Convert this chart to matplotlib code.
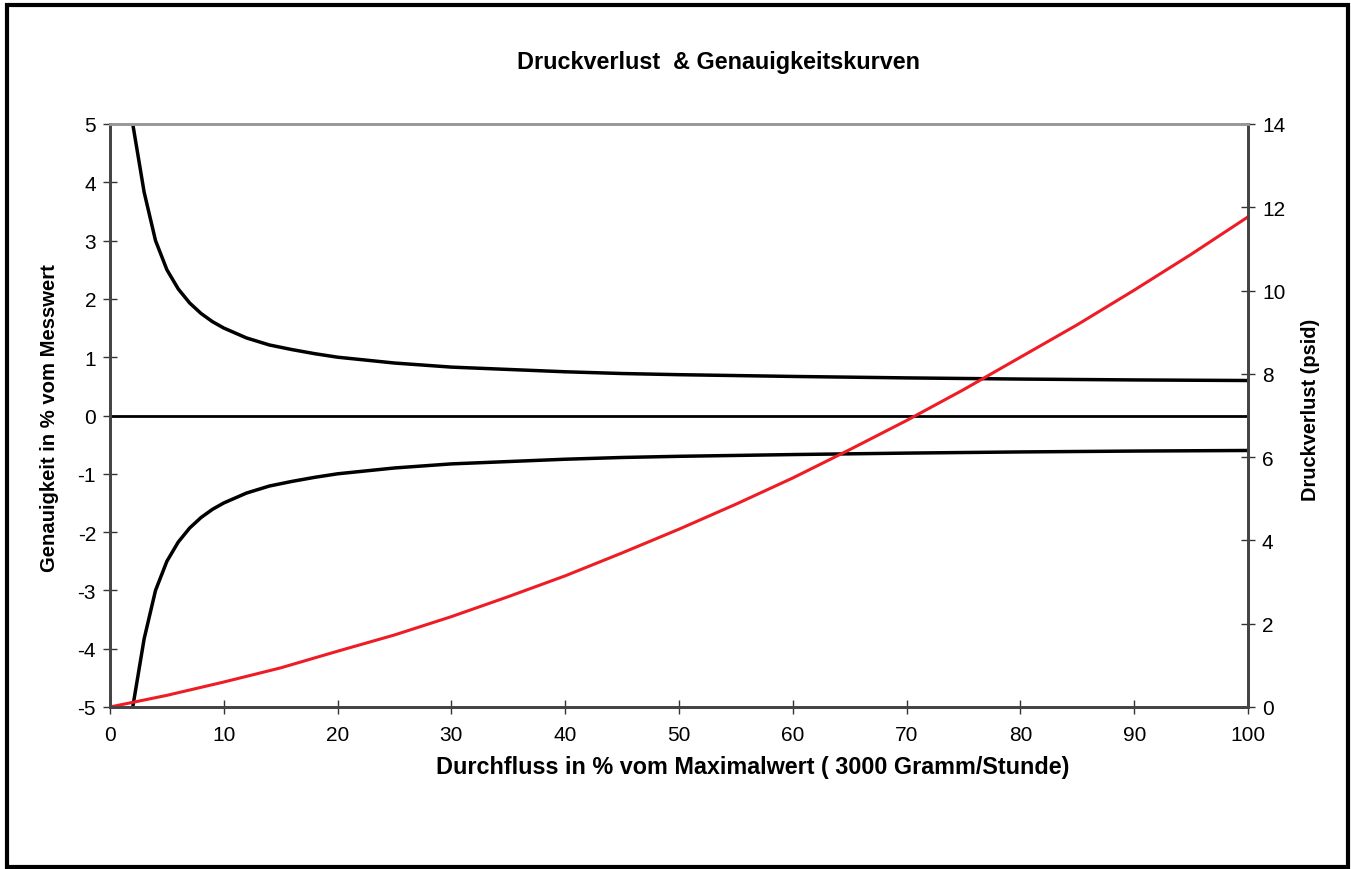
import matplotlib.pyplot as plt
from matplotlib.patches import Rectangle

plt.rcParams['font.family'] = ['Liberation Sans', 'DejaVu Sans']
plt.rcParams['axes.unicode_minus'] = False

# Genauigkeit (upper / lower limit), % vom Messwert
acc_x = [2, 3, 4, 5, 6, 7, 8, 9, 10, 12, 14, 16, 18, 20, 25, 30, 35, 40, 45, 50, 60, 70, 80, 90, 100]
acc_upper = [5.0, 3.83, 3.0, 2.5, 2.17, 1.93, 1.75, 1.61, 1.5, 1.33, 1.21, 1.13, 1.06, 1.0,
             0.9, 0.83, 0.79, 0.75, 0.72, 0.70, 0.67, 0.645, 0.625, 0.61, 0.60]
acc_lower = [-v for v in acc_upper]

# Druckverlust (psid)
dp_x = [0, 5, 10, 15, 20, 25, 30, 35, 40, 45, 50, 55, 60, 65, 70, 75, 80, 85, 90, 95, 100]
dp_y = [0.0, 0.28, 0.6, 0.94, 1.34, 1.73, 2.17, 2.65, 3.15, 3.70, 4.27, 4.87, 5.5, 6.18,
        6.88, 7.62, 8.4, 9.18, 10.01, 10.87, 11.77]

x_ticks = list(range(0, 101, 10))
left_ticks = list(range(-5, 6))
right_ticks = list(range(0, 15, 2))

W, H = 1351, 870
fig = plt.figure(figsize=(W / 100, H / 100), dpi=100)
ax1 = fig.add_axes([110 / W, 1 - 708 / H, (1248 - 110) / W, (708 - 125) / H])
ax2 = ax1.twinx()

ax1.plot(acc_x, acc_upper, color='black', lw=2.5)
ax1.plot(acc_x, acc_lower, color='black', lw=2.5)
ax1.axhline(0, color='black', lw=2)
ax2.plot(dp_x, dp_y, color='#ee1c25', lw=2.2)

ax1.set_xlim(0, 100)
ax1.set_ylim(-5, 5)
ax2.set_ylim(0, 14)
ax1.set_xticks(x_ticks)
ax1.set_yticks(left_ticks)
ax2.set_yticks(right_ticks)

for a in (ax1, ax2):
    a.tick_params(direction='inout', length=10, width=1, color='#333333', labelsize=15, pad=5)
    for s in a.spines.values():
        s.set_color('#444444')
        s.set_linewidth(2)
    a.spines['top'].set_color('#999999')
ax1.tick_params(axis='x', pad=8)

fig.text(753 / W, 1 - 768 / H, 'Durchfluss in % vom Maximalwert ( 3000 Gramm/Stunde)',
         ha='center', va='center', fontsize=16.8, fontweight='bold')
fig.text(50 / W, 1 - 418 / H, 'Genauigkeit in % vom Messwert', rotation=90,
         ha='center', va='center', fontsize=14.6, fontweight='bold')
fig.text(1310 / W, 1 - 410 / H, 'Druckverlust (psid)', rotation=90,
         ha='center', va='center', fontsize=14.4, fontweight='bold')

fig.text(719 / W, 1 - 63 / H, 'Druckverlust  & Genauigkeitskurven', ha='center', va='center',
         fontsize=16.8, fontweight='bold')

fig.patches.append(Rectangle((7 / W, 2 / H), 1341 / W, 862 / H, transform=fig.transFigure,
                             fill=False, edgecolor='black', lw=3))

fig.savefig('out.png', dpi=100)
